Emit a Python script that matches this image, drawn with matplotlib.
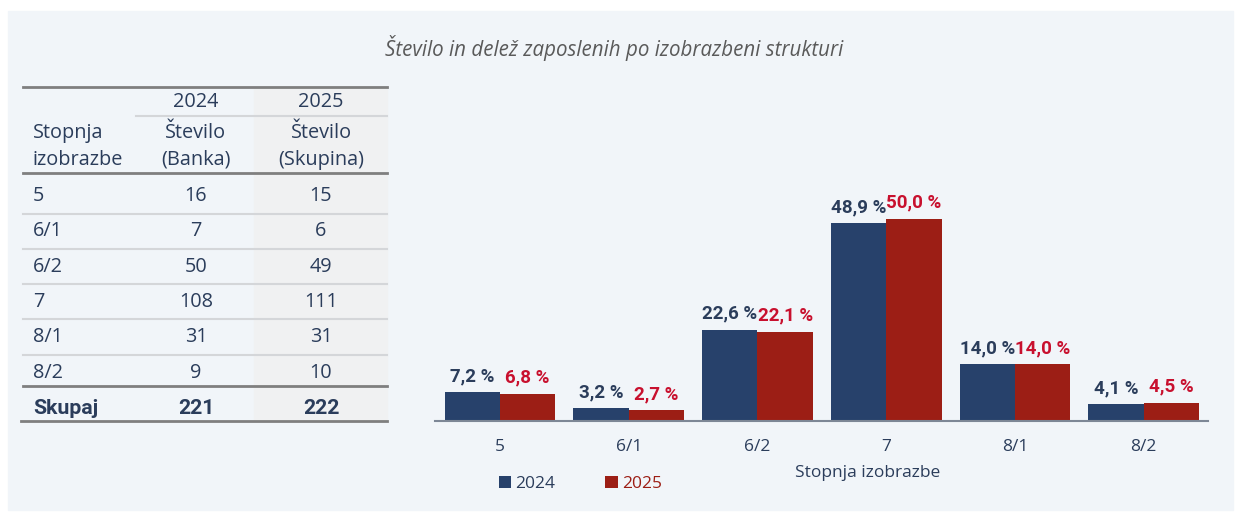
import matplotlib.pyplot as plt
from matplotlib.patches import Rectangle
import numpy as np

plt.rcParams['font.family'] = ['Open Sans', 'DejaVu Sans']
bold_fam = ['Roboto', 'DejaVu Sans']

# podatki
stopnje = ['5', '6/1', '6/2', '7', '8/1', '8/2']
st_2024 = [16, 7, 50, 108, 31, 9]
st_2025 = [15, 6, 49, 111, 31, 10]
skupaj = [221, 222]
delez_2024 = [7.2, 3.2, 22.6, 48.9, 14.0, 4.1]
delez_2025 = [6.8, 2.7, 22.1, 50.0, 14.0, 4.5]
leta = ['2024', '2025']

navy = '#27416b'
red = '#9c1e15'
red_txt = '#c8102e'
txt = '#2b3d5b'
panel = '#f1f5f9'

fig = plt.figure(figsize=(12.41, 5.2), dpi=100)
fig.patch.set_facecolor('white')

# ozadje in tabela v pikslih
bg = fig.add_axes([0, 0, 1, 1])
bg.set_xlim(0, 1241)
bg.set_ylim(520, 0)
bg.axis('off')
bg.add_patch(Rectangle((8, 11), 1225, 499, color=panel, zorder=0))
bg.add_patch(Rectangle((254, 87), 133, 334, color='#f0f1f2', zorder=1))

bg.text(614, 48, 'Število in delež zaposlenih po izobrazbeni strukturi',
        ha='center', va='center', fontsize=14.8, style='italic', color='#5a5a5a')

fs = 14.3
bg.text(196, 102, leta[0], ha='center', va='center', fontsize=fs, color=txt)
bg.text(321, 102, leta[1], ha='center', va='center', fontsize=fs, color=txt)
bg.text(33, 133, 'Stopnja', ha='left', va='center', fontsize=fs, color=txt)
bg.text(33, 160, 'izobrazbe', ha='left', va='center', fontsize=fs, color=txt)
bg.text(196, 133, 'Število', ha='center', va='center', fontsize=fs, color=txt)
bg.text(196, 160, '(Banka)', ha='center', va='center', fontsize=fs, color=txt)
bg.text(321, 133, 'Število', ha='center', va='center', fontsize=fs, color=txt)
bg.text(321, 160, '(Skupina)', ha='center', va='center', fontsize=fs, color=txt)

row_h = 35.3
for i, s in enumerate(stopnje):
    y = 196 + i * row_h
    bg.text(33, y, s, ha='left', va='center', fontsize=fs, color=txt)
    bg.text(196, y, str(st_2024[i]), ha='center', va='center', fontsize=fs, color=txt)
    bg.text(321, y, str(st_2025[i]), ha='center', va='center', fontsize=fs, color=txt)
    if i < len(stopnje) - 1:
        bg.plot([23, 387], [y + 17.5, y + 17.5], color='#d4d6d9', lw=1.5, zorder=2)
fsb = 15.3
bg.text(33, 409, 'Skupaj', ha='left', va='center', fontsize=fsb, color=txt,
        fontweight='bold', family=bold_fam)
bg.text(196, 409, str(skupaj[0]), ha='center', va='center', fontsize=fsb, color=txt,
        fontweight='bold', family=bold_fam)
bg.text(321, 409, str(skupaj[1]), ha='center', va='center', fontsize=fsb, color=txt,
        fontweight='bold', family=bold_fam)

bg.plot([23, 387], [87, 87], color='#7f7f7f', lw=2, zorder=2)
bg.plot([136, 387], [116, 116], color='#d4d6d9', lw=1.5, zorder=2)
bg.plot([23, 387], [173, 173], color='#7f7f7f', lw=2, zorder=2)
bg.plot([23, 387], [386, 386], color='#7f7f7f', lw=2, zorder=2)
bg.plot([21, 387], [421, 421], color='#7f7f7f', lw=2, zorder=2)

# graf
ax = fig.add_axes([435 / 1241, 99 / 520, 773 / 1241, 241 / 520])
ax.patch.set_alpha(0)
x = np.arange(len(stopnje))
w = 0.43
b1 = ax.bar(x - w / 2, delez_2024, w, color=navy, label=leta[0])
b2 = ax.bar(x + w / 2, delez_2025, w, color=red, label=leta[1])
ax.set_xlim(-0.505, 5.5)
ax.set_ylim(0, 59.6)

def fmt(v):
    return f'{v:.1f} %'.replace('.', ',')

for r, v in zip(b1, delez_2024):
    ax.annotate(fmt(v), (r.get_x() + r.get_width() / 2, v), xytext=(0, 5),
                textcoords='offset points', ha='center', va='bottom',
                fontsize=13.5, fontweight='bold', family=bold_fam, color='#2b3d5b')
for r, v in zip(b2, delez_2025):
    ax.annotate(fmt(v), (r.get_x() + r.get_width() / 2, v), xytext=(0, 5),
                textcoords='offset points', ha='center', va='bottom',
                fontsize=13.5, fontweight='bold', family=bold_fam, color=red_txt)

for s in ['top', 'right', 'left']:
    ax.spines[s].set_visible(False)
ax.spines['bottom'].set_color('#7d8796')
ax.spines['bottom'].set_linewidth(1.5)
ax.set_yticks([])
ax.set_xticks(x)
ax.set_xticklabels(stopnje, fontsize=12.5, color=txt)
ax.tick_params(axis='x', length=0, pad=13)

fig.text(868 / 1241, 1 - 473 / 520, 'Stopnja izobrazbe', ha='center', va='center',
         fontsize=12.5, color=txt)

leg = fig.legend(handles=[b1, b2], labels=leta, loc='center left',
                 bbox_to_anchor=(483 / 1241, 1 - 484 / 520), ncol=2, frameon=False,
                 fontsize=12.5, handlelength=0.7, handleheight=0.7,
                 handletextpad=0.25, columnspacing=2.9)
leg.get_texts()[0].set_color(txt)
leg.get_texts()[1].set_color(red)

fig.savefig('out.png', dpi=100)
